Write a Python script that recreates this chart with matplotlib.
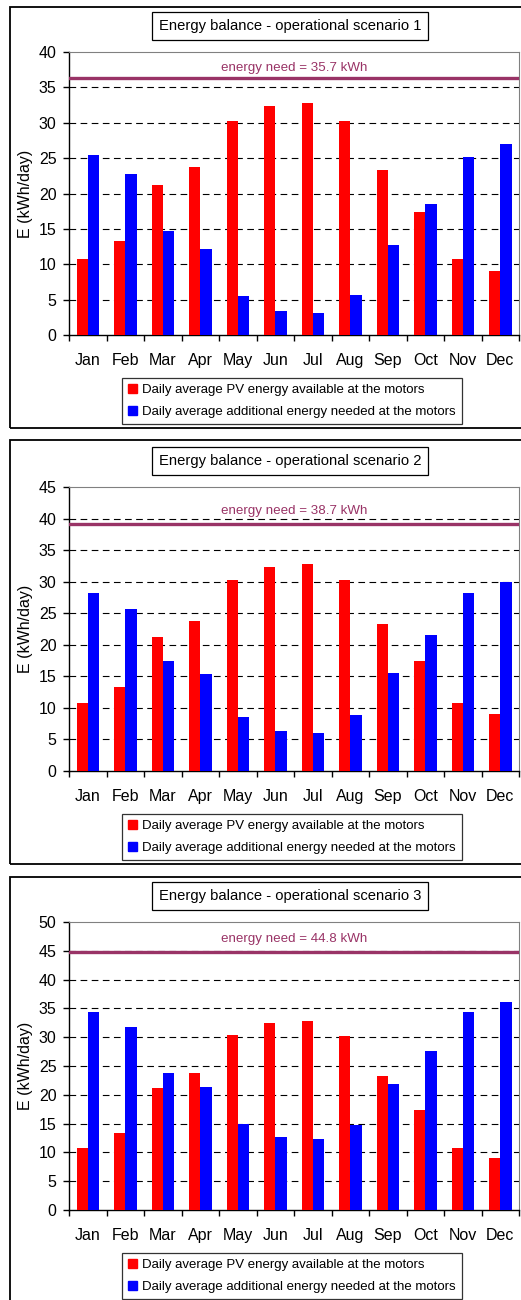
import matplotlib.pyplot as plt
from matplotlib.patches import Rectangle, Patch

plt.rcParams['font.family'] = ['Liberation Sans', 'DejaVu Sans']

months = ['Jan', 'Feb', 'Mar', 'Apr', 'May', 'Jun', 'Jul', 'Aug', 'Sep', 'Oct', 'Nov', 'Dec']

# PV energy available (same for all scenarios)
pv_energy = [10.7, 13.3, 21.2, 23.8, 30.3, 32.4, 32.8, 30.2, 23.3, 17.4, 10.7, 9.0]

# additional energy needed per scenario
extra_s1 = [25.4, 22.8, 14.7, 12.2, 5.5, 3.4, 3.1, 5.7, 12.7, 18.5, 25.2, 27.0]
extra_s2 = [28.2, 25.6, 17.5, 15.3, 8.6, 6.3, 6.1, 8.8, 15.6, 21.5, 28.2, 29.9]
extra_s3 = [34.3, 31.7, 23.7, 21.3, 14.9, 12.6, 12.3, 14.8, 21.8, 27.6, 34.3, 36.1]

need_labels = ['energy need = 35.7 kWh', 'energy need = 38.7 kWh', 'energy need = 44.8 kWh']
need_lines = [36.3, 39.1, 44.8]   # where the line sits in the picture
y_max = [40, 45, 50]
titles = ['Energy balance - operational scenario 1',
          'Energy balance - operational scenario 2',
          'Energy balance - operational scenario 3']

W, H = 521, 1300
fig = plt.figure(figsize=(W / 100, H / 100), dpi=100)


def fx(x):
    return x / W


def fy(y):
    return 1 - y / H


def draw_panel(ax_top, ax_bot, box_top, box_bot, extra, ymax, title, lab, line_y, lab_y):
    left, right = 69, 519
    ax = fig.add_axes([fx(left), fy(ax_bot), (right - left) / W, (ax_bot - ax_top) / H])
    x = list(range(len(months)))
    ax.bar([i - 0.15 for i in x], pv_energy, 0.3, color='#FF0000', zorder=3)
    ax.bar([i + 0.15 for i in x], extra, 0.3, color='#0000FF', zorder=3)

    ax.set_xlim(-0.5, 11.5)
    ax.set_ylim(0, ymax)
    ax.set_yticks(range(0, ymax + 1, 5))
    ax.set_xticks(x)
    ax.set_xticklabels(months)
    ax.set_xticks([i - 0.5 for i in range(13)], minor=True)
    ax.tick_params(axis='x', which='major', length=0, pad=13, labelsize=11.5)
    ax.tick_params(axis='x', which='minor', length=4, width=1, direction='out')
    ax.tick_params(axis='y', length=4, width=1, pad=5, labelsize=11.5)

    for v in range(5, ymax, 5):
        ax.axhline(v, color='black', lw=0.8, dashes=(6, 4), zorder=1)

    ax.axhline(line_y, xmin=0, xmax=0.995, color='#993366', lw=2.4, zorder=4)
    ax.text(0.5, lab_y, lab, transform=ax.get_yaxis_transform(), ha='center', va='center',
            fontsize=9.6, color='#993366', zorder=5,
            bbox=dict(facecolor='white', edgecolor='none', pad=1))

    ax.spines['top'].set_color('#808080')
    ax.spines['right'].set_color('#808080')
    ax.spines['left'].set_linewidth(1)
    ax.spines['bottom'].set_linewidth(1)

    ax.set_ylabel('E (kWh/day)', fontsize=11.5)
    ax.yaxis.set_label_coords(-0.08, 0.5)

    # outer chart frame
    fig.patches.append(Rectangle((fx(10), fy(box_bot)), fx(530) - fx(10), (box_bot - box_top) / H,
                                 transform=fig.transFigure, fill=False, edgecolor='black', lw=1.3))

    fig.text(fx(290), fy(ax_top - 26), title, ha='center', va='center', fontsize=10.6,
             bbox=dict(facecolor='white', edgecolor='black', boxstyle='square,pad=0.45', lw=0.9))

    handles = [Patch(color='#FF0000'), Patch(color='#0000FF')]
    labels = ['Daily average PV energy available at the motors',
              'Daily average additional energy needed at the motors']
    leg = fig.legend(handles, labels, loc='upper center', bbox_to_anchor=(fx(292), fy(ax_bot + 43)),
                     fontsize=9.5, frameon=True, fancybox=False, edgecolor='black',
                     handlelength=0.7, handleheight=0.7, handletextpad=0.4,
                     labelspacing=0.75, borderpad=0.45, borderaxespad=0)
    leg.get_frame().set_linewidth(0.9)
    return ax


draw_panel(52, 335, 7, 428, extra_s1, y_max[0], titles[0], need_labels[0], need_lines[0], 37.8)
draw_panel(487, 771, 440, 864, extra_s2, y_max[1], titles[1], need_labels[1], need_lines[1], 41.25)
draw_panel(922, 1210, 877, 1320, extra_s3, y_max[2], titles[2], need_labels[2], need_lines[2], 47.1)

fig.savefig('out.png', dpi=100, facecolor='white')
